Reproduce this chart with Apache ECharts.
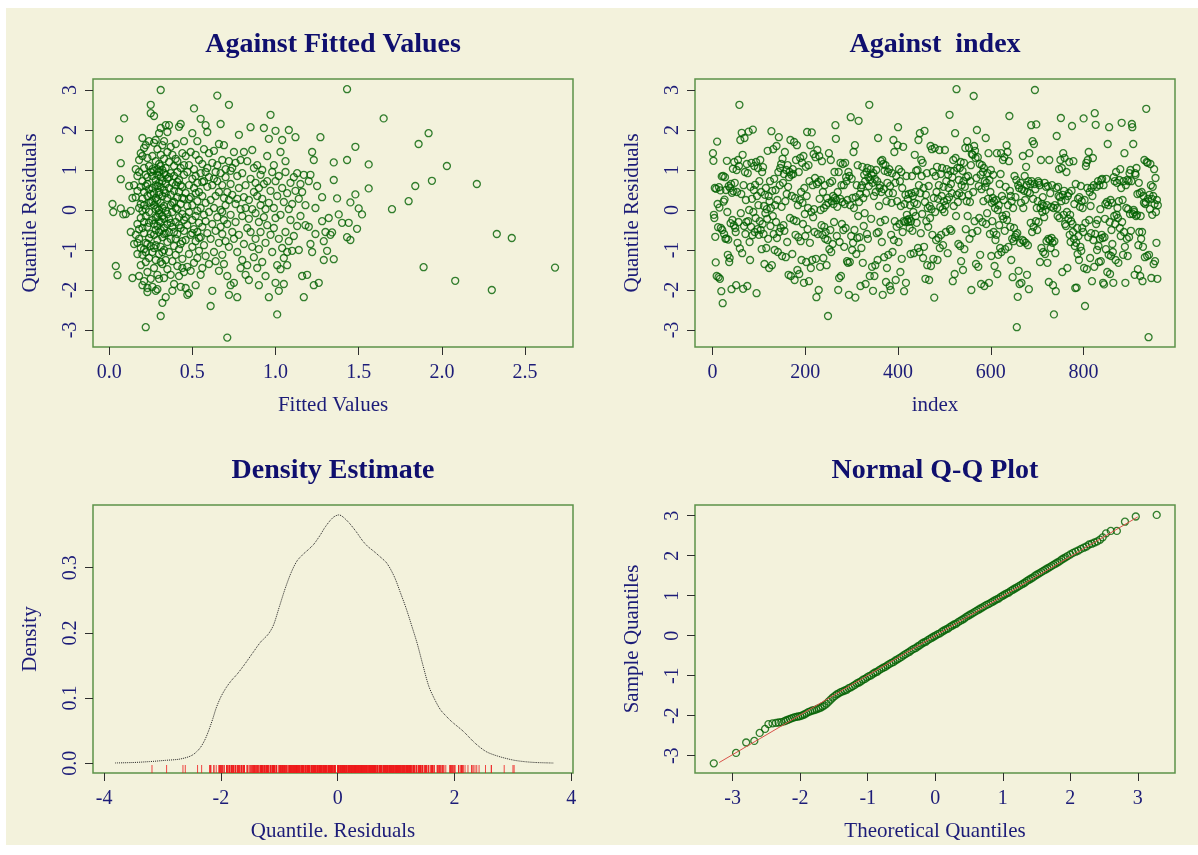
<!DOCTYPE html>
<html>
<head>
<meta charset="utf-8">
<title>Quantile residual diagnostics</title>
<script src="https://cdn.jsdelivr.net/npm/echarts@6/dist/echarts.min.js"></script>
<style>
  html, body { margin: 0; padding: 0; background: #ffffff; }
  #chart { width: 1198px; height: 855px; }
</style>
</head>
<body>
<div id="chart"></div>
<script>
const residuals = [
  1.42, 1.23, -0.12, -0.2, 0.55, -0.67, -1.31, 0.53, -1.65, 1.71, 0.15, -0.43, -1.68, 0.57, 0.06, -1.72, 0.49, -0.45, -2.03, 0.84,
  -0.5, -2.33, 0.85, 0.21, -0.6, 0.26, 0.82, -0.72, 0.5, -0.71, 1.23, -0.05, -1.12, -0.74, 0.6, -1.3, -1.2, 0.55, -0.33, 0.65,
  -1.98, 0.43, -0.25, 1.03, 0.47, -0.38, 1.2, 0.68, -0.45, -0.55, -1.88, 1.0, 0.45, -0.82, 1.25, -0.3, 1.1, 2.63, -0.96, 1.75,
  -0.08, 0.4, 1.93, -1.08, 1.38, -1.97, 0.62, -0.4, 1.8, 0.95, -0.6, 0.25, -0.3, 1.15, -1.9, 0.92, -0.28, 1.96, 0.0, -0.8,
  -1.25, 0.58, -0.42, 1.18, 0.28, -0.63, 2.01, -0.05, 0.5, 1.1, -0.55, 0.63, -0.2, 1.2, -2.08, 0.35, -0.48, 1.05, 0.12, -0.62,
  0.72, -0.28, 1.25, -0.5, 0.45, -0.98, 0.95, -0.35, 1.07, -0.6, 0.1, -1.35, 0.38, -0.08, 0.55, -0.95, 0.02, -0.22, 1.48, -0.72,
  0.35, -1.45, 0.22, 0.72, -0.4, 0.05, 1.97, -1.38, 0.48, -0.15, 1.52, -0.6, 0.78, -1.0, 0.12, 0.5, -0.3, 1.6, -0.7, 0.25,
  -1.05, 0.95, 1.82, -0.55, 0.62, 1.05, -0.45, 1.15, 0.08, -1.15, 1.28, 0.68, -0.38, 0.9, -0.52, 1.45, 0.22, -1.18, 1.0, 0.4,
  -0.8, 1.12, 0.58, -1.62, 0.82, 0.95, -0.2, 1.75, -1.65, 0.88, 0.35, -1.1, 1.02, 0.9, -0.25, 1.7, -1.75, 0.3, -0.62, 1.25,
  -0.28, 1.62, -1.5, 0.12, -0.68, 0.95, -1.6, 0.25, 1.3, -0.78, 0.45, -1.25, 1.18, 0.18, -0.35, 1.35, -1.82, 0.55, -0.1, -0.65,
  1.08, -1.3, 0.35, 1.95, -0.48, 0.05, 1.12, -1.78, 0.72, -0.82, 1.62, -1.45, -0.05, 1.94, -1.25, 0.62, -0.18, 1.4, 0.02, -0.55,
  0.8, 1.32, -1.22, -2.18, 0.65, 1.5, -0.6, 0.7, -2.0, 1.35, 0.28, -1.42, 0.0, 0.75, -0.38, 1.22, -0.62, 0.45, -1.2, 0.05,
  -0.42, 0.62, -0.72, -0.55, 0.12, -1.38, 0.3, -0.75, -2.65, 0.18, 1.42, -0.98, 0.68, -0.5, 1.25, -1.05, 0.22, 0.72, -0.85, 0.35,
  0.15, -0.3, 0.95, 0.3, 2.12, 1.78, 0.25, -0.65, 0.08, 0.45, -2.0, 0.95, -1.7, -0.8, 0.28, 1.18, -1.65, 0.62, -0.35, 0.2,
  1.15, -0.5, 0.62, -0.92, 0.15, 1.18, -0.45, 0.82, 0.72, -1.28, 0.25, -1.32, 0.95, -2.12, 0.85, -1.3, 0.12, 2.32, -0.65, 0.78,
  -1.0, 0.3, -0.82, 1.45, 0.05, -0.5, 1.62, -2.19, 0.32, -1.1, 0.62, -0.7, 1.12, -0.15, 2.23, 0.2, -0.68, 0.4, -1.9, 0.55,
  -0.95, 0.62, 1.08, -1.32, 0.3, -0.4, 0.88, -0.08, 0.72, -1.85, 0.42, 0.95, -0.6, 1.05, -0.72, 0.82, 0.6, 2.63, -1.65, 0.75,
  1.02, -0.22, 0.88, -1.42, 0.68, -2.02, 0.92, 0.35, -1.65, 0.78, -1.38, 0.45, 1.0, -0.58, 0.72, -1.25, 1.8, -0.55, 0.1, 0.55,
  0.62, -0.3, 1.22, 0.45, -0.8, 1.25, -2.12, 1.15, 0.52, -1.18, 0.98, -0.25, 1.12, -1.8, 0.22, -1.45, 0.68, 0.95, -1.12, 0.42,
  1.02, -1.9, 0.6, -2.0, -0.62, 0.18, 0.92, -1.05, 0.42, 1.75, -0.75, 1.45, -0.28, 0.68, -1.75, 0.85, -0.42, 0.22, 1.62, 2.07,
  -0.8, 1.02, -0.35, 0.72, -1.55, 0.1, 0.95, -1.22, 0.55, -0.55, 1.58, -0.28, -2.03, 0.15, -0.3, 0.38, -1.82, 0.85, -0.12, -0.25,
  0.28, -0.3, 0.4, -0.22, -0.45, 0.12, -1.1, -0.28, 0.42, 0.85, -0.52, 0.35, -0.05, -1.08, 0.18, 1.38, 0.45, -0.15, 0.98, -0.32,
  0.15, 1.0, -0.95, 1.75, 0.62, -1.05, 1.92, 0.42, -0.58, 1.25, 0.85, -0.1, 1.18, -1.2, 0.55, -0.92, 1.98, 0.2, -1.72, 0.38,
  -0.28, 0.92, -1.38, 0.05, -0.42, 0.6, -1.75, 0.1, -0.2, 1.6, -1.4, 0.02, 1.52, -0.62, 0.95, -1.22, 0.3, -2.19, 1.55, -0.05,
  0.85, -0.75, 0.45, 1.08, -1.25, 0.28, -0.7, 0.62, 1.5, -0.95, 0.08, 0.9, -0.62, 0.35, 1.05, 0.02, -0.88, 0.58, 0.22, -0.05,
  1.5, 0.12, -0.55, 0.72, 1.02, 0.25, -1.08, 0.88, 0.55, 0.32, 2.38, -0.48, 0.98, 0.65, -0.52, 0.42, 0.82, -1.78, 1.25, 0.1,
  0.98, -1.6, 1.92, 1.3, -0.15, 3.02, 0.38, 1.05, 0.2, -0.85, 0.75, 0.42, 1.05, -0.9, 1.2, -1.28, 0.62, 0.35, 0.98, -1.5,
  0.72, 1.18, -0.98, 0.58, 1.55, -0.48, 0.82, 0.22, 1.72, -0.15, 0.85, 0.38, 1.55, -0.72, 0.2, 0.72, 1.12, -2.0, 1.4, -0.58,
  1.38, 0.45, 2.85, 1.6, -0.28, 1.48, 1.3, -1.35, 0.8, 2.0, -0.52, 1.32, -1.42, 0.6, -0.2, 1.15, -1.12, 0.88, -1.85, 0.52,
  1.12, -0.3, 0.95, 0.22, 1.05, -1.9, 0.72, 0.58, 1.8, -0.35, 0.68, -0.08, 0.92, 0.28, 1.42, -1.82, 0.75, -0.6, 0.45, 1.0,
  -1.15, 0.18, -0.28, 0.3, 0.88, -0.55, 0.22, -1.4, 0.05, -0.75, 0.25, -0.62, 1.42, -1.6, 0.0, -1.12, 0.12, -0.38, 0.65, -0.95,
  0.9, 1.42, -1.05, 0.35, -0.15, 1.25, -0.22, 0.25, 1.32, -0.52, -0.98, 0.58, -0.12, 1.62, -0.25, 1.45, 0.12, -0.92, 1.22, 2.35,
  0.48, -0.42, 0.35, -1.25, 0.22, -0.72, -1.68, 0.05, -0.78, -0.45, 0.85, -0.68, 0.32, -0.62, 0.75, -2.93, -0.58, -2.17, 0.62, -1.52,
  0.55, -1.85, -0.82, 0.68, 0.18, -1.82, 0.52, -0.75, 1.35, 0.05, -0.78, 0.48, 0.85, 0.25, -0.82, 1.08, 0.62, -1.62, 0.45, -0.88,
  0.72, -1.98, 1.42, 0.42, 0.65, -0.32, 2.12, 0.72, -0.55, 1.72, 0.28, -0.42, 1.65, 0.65, 3.0, 0.52, -0.28, 2.14, 0.05, -0.5,
  0.22, 0.72, -0.3, 0.68, 0.62, -1.3, 0.05, 1.25, -0.95, 0.15, -0.05, 0.32, -1.05, 0.1, -0.18, 0.68, -1.1, 0.0, 0.58, -0.78,
  0.12, -1.32, 0.6, -0.72, -1.8, 1.25, -0.75, 0.42, -0.95, 0.08, -0.7, 0.62, -0.82, -1.88, 0.05, -2.61, -0.78, 0.12, -1.08, -2.03,
  0.55, 1.85, 0.05, -0.15, 0.58, 0.35, 1.02, -0.2, 0.32, 1.25, 2.3, 0.22, 1.05, -1.55, 0.38, 1.42, -0.12, 0.48, 1.3, -0.35,
  0.25, -0.4, 0.95, -0.05, -1.45, 0.35, -0.22, 0.42, 1.2, -0.62, -0.12, -0.8, -0.28, 0.48, 2.1, -0.35, -0.55, 1.22, -0.72, 0.15,
  -0.9, -1.95, 0.65, -0.82, -1.94, -0.45, -1.1, 0.28, -0.65, -1.25, 0.32, 0.08, -0.92, 0.6, -1.02, 0.22, -0.45, 0.05, -0.55, 2.29,
  -1.45, 0.25, -2.4, -0.32, 1.1, 1.18, -1.48, 0.55, 1.25, -0.68, 1.45, -0.25, 0.45, -1.2, 0.1, -0.58, 0.55, -1.78, 0.35, 1.3,
  -0.75, 0.62, -1.42, 2.42, -0.6, 2.13, -0.35, 0.58, -1.0, -0.25, 0.72, -0.9, -1.3, 0.62, -0.72, 0.02, -1.28, 0.75, -0.62, 0.78,
  -0.7, -1.82, 0.62, -1.86, -0.68, -0.22, 0.15, -0.98, 0.78, 0.2, -1.55, 1.65, 0.12, -1.12, 2.07, -0.3, -1.6, 0.25, -1.15, -0.5,
  0.18, -0.85, -1.05, -1.82, 0.82, -0.15, 0.72, -0.35, -1.25, 0.95, -0.12, 0.68, 0.05, -0.2, -1.32, 0.22, 0.75, -0.45, 1.02, -0.65,
  0.55, 2.18, -0.3, 0.25, -1.12, 0.72, -0.55, 1.42, -0.92, -1.82, 0.62, 0.05, -0.72, 0.75, -1.15, 0.02, 0.72, -0.68, 0.92, -0.1,
  1.0, -0.52, 0.72, 2.15, 2.07, -0.1, 1.65, 0.0, -0.05, -1.62, 0.92, 0.88, -0.15, 1.05, -0.12, 0.4, -1.48, -0.88, 0.68, -0.55,
  0.42, -1.65, -0.15, -0.72, 0.45, -0.55, -1.78, -0.92, 0.35, 0.18, 1.25, -1.18, 0.15, 0.2, 2.53, 1.2, -1.15, 1.18, 0.28, -3.18,
  -1.12, 0.38, 0.02, 1.15, 0.62, -1.7, 0.28, -0.12, 0.58, 0.35, -1.35, 1.02, 0.15, -1.28, 0.8, -0.05, -0.82, 0.25, -1.72, 0.12
];

// [fitted value, quantile residual]
const fittedPoints = [
  [0.02,0.15],[0.025,-0.05],[0.06,1.77],[0.07,0.77],[0.07,1.17],[0.09,2.29],[0.07,0.04],[0.085,-0.11],[0.04,-1.4],[0.05,-1.63],
  [0.1,-0.1],[0.12,0.6],[0.13,-0.55],[0.14,-1.7],[0.14,0.3],[0.15,-0.85],[0.15,0.62],[0.13,-0.02],
  [0.16,-0.62],[0.16,0.32],[0.17,-1.1],[0.17,0.85],[0.17,-0.35],[0.18,1.25],[0.18,-0.72],[0.18,0.05],[0.18,-1.65],[0.19,0.58],
  [0.19,-0.2],[0.19,1.42],[0.19,-0.95],[0.2,0.28],[0.2,-1.12],[0.2,1.8],[0.2,-0.45],[0.2,0.72],[0.21,-1.78],[0.21,0.12],
  [0.21,1.05],[0.21,-0.58],[0.21,0.45],[0.22,-1.3],[0.22,1.62],[0.22,-0.15],[0.22,0.88],[0.22,-0.82],[0.22,-2.93],[0.23,0.35],
  [0.23,1.3],[0.23,-1.95],[0.23,-0.42],[0.23,0.65],[0.23,-1.55],[0.24,1.1],[0.24,-0.05],[0.24,-0.7],[0.24,0.52],[0.24,1.72],
  [0.24,-1.2],[0.25,2.42],[0.25,2.63],[0.25,0.2],[0.25,-0.9],[0.25,0.95],[0.25,-1.72],[0.25,0.4],[0.18,0.95],[0.19,-1.38],
  [0.2,-0.02],[0.21,-0.3],[0.22,0.6],[0.23,-0.85],[0.24,0.18],[0.16,1.02],[0.17,0.48],[0.18,-0.48],[0.2,1.35],[0.21,-0.98],
  [0.22,0.02],[0.23,0.82],[0.24,-0.32],[0.2,-1.88],[0.21,1.55],[0.19,0.15],[0.23,-2.05],[0.17,-0.82],[0.25,-0.6],[0.22,-1.05],
  [0.26,0.55],[0.26,-0.25],[0.26,1.35],[0.26,-1.05],[0.26,0.85],[0.26,-1.92],[0.27,0.12],[0.27,1.68],[0.27,-0.62],[0.27,0.42],
  [0.27,-1.45],[0.27,0.98],[0.27,2.35],[0.28,-0.18],[0.28,0.75],[0.28,-0.88],[0.28,1.22],[0.28,0.3],[0.28,-1.25],[0.28,0.62],
  [0.28,-2.02],[0.29,0.05],[0.29,1.02],[0.29,-0.4],[0.29,0.88],[0.29,-0.75],[0.29,1.52],[0.29,0.25],[0.29,-1.62],[0.3,0.68],
  [0.3,-0.08],[0.3,1.92],[0.3,-0.55],[0.3,0.45],[0.3,1.15],[0.3,-1.1],[0.3,0.0],[0.3,-1.72],[0.31,3.0],[0.31,-2.65],
  [0.31,0.82],[0.31,-0.3],[0.31,1.38],[0.31,0.18],[0.31,-0.92],[0.31,0.58],[0.31,2.05],[0.32,-0.15],[0.32,1.0],[0.32,-0.68],
  [0.32,0.35],[0.32,-1.35],[0.32,0.72],[0.32,-2.32],[0.32,1.62],[0.33,-0.45],[0.33,0.92],[0.33,0.1],[0.33,-1.0],[0.33,1.28],
  [0.33,-1.7],[0.33,0.5],[0.33,-0.22],[0.34,2.12],[0.34,-0.58],[0.34,0.65],[0.34,-1.25],[0.34,1.05],[0.34,-0.02],[0.34,-2.18],
  [0.35,0.3],[0.35,-0.8],[0.35,1.45],[0.35,-1.48],[0.35,0.78],[0.35,-0.35],[0.35,1.95],[0.26,0.22],[0.27,-0.35],[0.28,1.75],
  [0.29,-1.98],[0.3,0.95],[0.31,-0.5],[0.32,0.05],[0.33,1.72],[0.34,0.42],[0.35,-0.1],[0.27,-0.95],[0.28,0.02],[0.29,0.6],
  [0.3,-0.28],[0.31,1.1],[0.32,-1.05],[0.33,-0.6],[0.34,0.88],[0.26,1.02],[0.29,-0.18],[0.3,0.38],[0.31,-1.3],[0.28,-0.5],
  [0.36,0.55],[0.36,-1.05],[0.36,1.2],[0.36,-0.22],[0.36,2.12],[0.37,0.12],[0.37,-0.72],[0.37,0.92],[0.37,-1.62],[0.37,0.38],
  [0.38,-0.42],[0.38,1.38],[0.38,0.68],[0.38,-1.28],[0.38,-0.05],[0.39,0.85],[0.39,-0.9],[0.39,0.2],[0.39,1.1],[0.39,-1.85],
  [0.4,-0.3],[0.4,0.62],[0.4,1.65],[0.4,-1.12],[0.4,0.05],[0.41,0.95],[0.41,-0.6],[0.41,-1.4],[0.41,0.32],[0.41,1.22],
  [0.42,-0.18],[0.42,0.75],[0.42,-0.98],[0.42,2.08],[0.42,0.45],[0.43,-1.92],[0.43,1.05],[0.43,-0.45],[0.43,0.15],[0.43,2.15],
  [0.44,-0.78],[0.44,0.58],[0.44,-1.22],[0.44,1.42],[0.44,-0.1],[0.45,0.88],[0.45,-0.52],[0.45,1.72],[0.45,-1.55],[0.45,0.28],
  [0.36,-0.55],[0.37,1.58],[0.38,-2.02],[0.39,0.48],[0.4,-0.72],[0.41,0.02],[0.42,-1.65],[0.43,0.62],[0.44,0.3],[0.45,-0.25],
  [0.36,0.82],[0.38,0.18],[0.4,1.28],[0.42,-0.38],[0.44,-1.45],[0.37,-0.32],[0.39,-0.55],[0.41,0.7],[0.43,-0.85],[0.45,1.12],
  [0.46,0.42],[0.46,-0.75],[0.46,1.35],[0.46,-1.95],[0.47,0.1],[0.47,-0.38],[0.47,0.95],[0.47,-2.12],[0.48,-1.1],[0.48,0.62],
  [0.48,-0.05],[0.48,1.12],[0.48,-2.08],[0.49,0.32],[0.49,-0.62],[0.49,1.45],[0.49,-1.52],[0.5,0.78],[0.5,-0.25],[0.5,1.92],
  [0.5,-0.92],[0.5,0.12],[0.51,2.54],[0.51,-0.48],[0.51,0.55],[0.51,-1.32],[0.51,1.02],[0.52,-0.15],[0.52,0.85],[0.52,-0.78],
  [0.52,1.38],[0.52,-1.88],[0.53,0.22],[0.53,-0.55],[0.53,0.68],[0.53,1.72],[0.53,-1.2],[0.54,-0.32],[0.54,0.45],[0.54,-1.02],
  [0.54,1.25],[0.55,0.05],[0.55,-0.68],[0.55,0.92],[0.55,-1.62],[0.55,2.28],[0.56,0.35],[0.56,-0.42],[0.56,1.15],[0.56,-1.45],
  [0.57,-0.12],[0.57,0.72],[0.57,-0.88],[0.57,1.52],[0.58,0.18],[0.58,-0.28],[0.58,-1.15],[0.58,2.12],[0.59,0.58],[0.59,-0.58],
  [0.59,1.05],[0.59,1.95],[0.6,-0.05],[0.6,0.82],[0.6,-1.35],[0.6,1.42],[0.46,-0.18],[0.48,0.28],[0.5,-0.58],[0.52,0.42],
  [0.54,-0.7],[0.56,0.7],[0.58,0.95],[0.47,-1.42],[0.53,-0.02],
  [0.61,-2.4],[0.61,0.25],[0.61,-0.72],[0.62,1.18],[0.62,-0.35],[0.62,0.62],[0.62,-2.02],[0.63,0.05],[0.63,-1.05],[0.63,0.78],
  [0.63,1.48],[0.64,-0.52],[0.64,0.35],[0.64,-1.28],[0.65,2.86],[0.65,0.72],[0.65,-0.18],[0.65,1.12],[0.66,-0.82],[0.66,0.45],
  [0.66,-1.52],[0.66,1.65],[0.67,0.0],[0.67,-0.42],[0.67,0.92],[0.67,2.15],[0.68,-1.12],[0.68,0.62],[0.68,-0.6],[0.68,1.25],
  [0.69,0.3],[0.69,-0.25],[0.69,1.62],[0.69,-1.35],[0.7,0.82],[0.7,-0.78],[0.7,0.12],[0.7,1.02],[0.71,-3.19],[0.71,-1.65],
  [0.71,0.45],[0.71,-0.35],[0.72,2.63],[0.72,1.22],[0.72,-0.92],[0.72,0.25],[0.72,-2.12],[0.73,-0.12],[0.73,0.65],[0.73,-1.88],
  [0.74,1.05],[0.74,-0.55],[0.74,0.38],[0.75,1.45],[0.75,-0.72],[0.75,-1.82],[0.76,0.15],[0.76,1.18],[0.76,-0.3],[0.77,0.85],
  [0.77,-2.18],[0.77,-1.05],[0.78,0.55],[0.78,1.88],[0.78,-0.62],[0.79,0.02],[0.79,1.25],[0.79,-1.45],[0.8,0.92],[0.8,-0.15],
  [0.8,-1.25],[0.64,0.95],[0.68,-0.05],[0.73,0.98],[0.77,0.28],
  [0.81,0.32],[0.81,-0.85],[0.81,1.45],[0.82,-1.62],[0.82,0.62],[0.82,0.05],[0.83,-0.45],[0.83,1.22],[0.83,-1.38],[0.84,0.25],
  [0.84,-0.22],[0.84,-1.75],[0.85,2.07],[0.85,0.78],[0.85,-0.55],[0.86,1.5],[0.86,0.02],[0.86,-0.92],[0.87,0.45],[0.87,-1.18],
  [0.87,1.05],[0.88,-0.08],[0.88,0.68],[0.88,-0.72],[0.89,0.35],[0.89,-1.45],[0.89,1.12],[0.9,-0.3],[0.9,0.55],[0.9,-0.98],
  [0.9,-1.88],[0.91,0.12],[0.91,0.88],[0.91,-0.55],[0.92,1.0],[0.92,-1.3],[0.92,0.28],[0.93,2.05],[0.93,-0.18],[0.93,0.65],
  [0.94,-0.82],[0.94,0.02],[0.94,-1.65],[0.95,0.72],[0.95,1.35],[0.95,-0.38],[0.96,1.78],[0.96,-2.18],[0.96,0.18],[0.97,2.38],
  [0.97,-0.62],[0.97,0.48],[0.98,-1.05],[0.98,0.95],[0.99,0.05],[0.99,-0.45],[0.99,1.12],[1.0,-1.82],[1.0,0.72],[1.0,-0.2],
  [1.0,1.98],[1.01,-2.61],[1.01,0.35],[1.01,-1.38],[1.02,0.85],[1.02,-0.72],[1.02,-2.02],[1.03,1.45],[1.03,-0.12],[1.03,-1.48],
  [1.04,0.55],[1.04,-0.95],[1.04,1.75],[1.05,-1.2],[1.05,0.2],[1.05,-1.85],[1.06,0.95],[1.06,-0.55],[1.06,1.22],[1.07,-1.05],
  [1.07,0.42],[1.07,-1.38],[1.08,0.02],[1.08,-0.78],[1.08,2.0],[1.09,0.68],[1.09,-0.25],[1.1,-1.02],[1.1,0.15],[1.11,0.82],
  [1.11,-0.65],[1.12,1.82],[1.12,0.48],[1.13,-0.4],[1.13,0.92],[1.14,0.28],[1.14,-1.0],[1.15,0.65],[1.15,-0.15],[1.16,-1.65],
  [1.16,0.45],[1.17,-2.18],[1.17,0.88],[1.18,-0.38],[1.18,0.12],[1.19,-1.62],[1.2,0.72],[1.2,-0.42],[1.21,-0.85],[1.21,0.88],
  [1.22,1.45],[1.22,-1.05],[1.23,1.25],[1.23,-1.88],[1.24,0.05],[1.24,-0.6],[1.25,0.6],[1.26,-1.82],[1.27,1.82],[1.28,0.32],
  [1.28,-0.28],[1.29,-1.25],[1.29,-0.78],[1.3,-0.55],
  [1.31,-1.02],[1.32,-0.2],[1.33,-0.62],[1.34,-0.56],[1.35,1.19],[1.35,0.75],[1.35,-1.23],[1.37,0.29],[1.38,-0.11],[1.4,-0.32],
  [1.43,1.25],[1.43,-0.68],[1.43,3.02],[1.44,-0.32],[1.45,0.19],[1.45,-0.75],[1.48,1.58],[1.48,0.39],[1.49,-0.47],[1.5,0.04],
  [1.52,-0.11],[1.56,1.14],[1.56,0.54],
  [1.65,2.29],[1.7,0.02],[1.8,0.22],[1.84,0.6],[1.86,1.65],[1.89,-1.43],[1.92,1.92],[1.94,0.73],[2.03,1.1],[2.08,-1.77],
  [2.21,0.65],[2.3,-2.0],[2.33,-0.6],[2.42,-0.7],[2.68,-1.44]
];

// kernel density estimate of the residuals
const densityX = [-3.81, -3.5, -3.22, -2.95, -2.7, -2.5, -2.37, -2.28, -2.21, -2.14, -2.08, -2.0, -1.91, -1.82, -1.72, -1.6, -1.45, -1.32, -1.19, -1.1,
  -1.0, -0.9, -0.8, -0.7, -0.6, -0.5, -0.41, -0.3, -0.21, -0.08, 0.02, 0.15, 0.31, 0.42, 0.51, 0.62, 0.71, 0.84, 0.97, 1.08,
  1.17, 1.27, 1.36, 1.46, 1.56, 1.66, 1.76, 1.86, 1.95, 2.15, 2.35, 2.54, 2.74, 3.0, 3.2, 3.39, 3.69];
const densityY = [0.0005, 0.0012, 0.0026, 0.0045, 0.0065, 0.012, 0.022, 0.035, 0.05, 0.068, 0.085, 0.102, 0.116, 0.127, 0.137, 0.151, 0.17, 0.186, 0.198, 0.212,
  0.24, 0.268, 0.292, 0.31, 0.32, 0.328, 0.336, 0.35, 0.363, 0.377, 0.381, 0.373, 0.356, 0.342, 0.333, 0.325, 0.318, 0.307, 0.286, 0.26,
  0.238, 0.21, 0.184, 0.15, 0.118, 0.098, 0.082, 0.072, 0.064, 0.049, 0.031, 0.018, 0.011, 0.005, 0.0025, 0.0012, 0.0004];

// [theoretical quantile, sample quantile]
const qqPoints = [
  [-3.28,-3.19],[-2.95,-2.93],[-2.8,-2.67],[-2.68,-2.63],[-2.6,-2.43],[-2.52,-2.33],[-2.47,-2.21],[-2.41,-2.19],[-2.36,-2.18],[-2.32,-2.17],
  [-2.28,-2.16],[-2.24,-2.14],[-2.21,-2.12],[-2.18,-2.1],[-2.15,-2.08],[-2.12,-2.06],[-2.09,-2.04],[-2.06,-2.03],[-2.03,-2.02],[-2.0,-2.01],
  [-1.97,-1.99],[-1.94,-1.97],[-1.91,-1.94],[-1.88,-1.91],[-1.85,-1.89],[-1.82,-1.87],[-1.79,-1.86],[-1.76,-1.84],[-1.73,-1.82],[-1.7,-1.8],
  [-1.67,-1.77],[-1.64,-1.74],[-1.61,-1.7],[-1.58,-1.65],[-1.55,-1.6],[-1.52,-1.55],[-1.49,-1.51],[-1.46,-1.47],[-1.43,-1.44],[-1.4,-1.41],
  [-1.37,-1.39],[-1.34,-1.37],[-1.31,-1.35],[-1.28,-1.31],[-1.25,-1.29],[-1.22,-1.26],[-1.19,-1.23],[-1.16,-1.19],[-1.13,-1.17],[-1.1,-1.14],
  [-1.07,-1.1],[-1.04,-1.08],[-1.01,-1.04],[-0.98,-1.01],[-0.95,-0.99],[-0.92,-0.95],[-0.89,-0.92],[-0.86,-0.9],[-0.83,-0.86],[-0.8,-0.83],
  [-0.77,-0.8],[-0.74,-0.78],[-0.71,-0.74],[-0.68,-0.71],[-0.65,-0.68],[-0.62,-0.66],[-0.59,-0.62],[-0.56,-0.59],[-0.53,-0.56],[-0.5,-0.53],
  [-0.47,-0.49],[-0.44,-0.46],[-0.41,-0.43],[-0.38,-0.4],[-0.35,-0.36],[-0.32,-0.33],[-0.29,-0.31],[-0.26,-0.27],[-0.23,-0.24],[-0.2,-0.2],
  [-0.17,-0.17],[-0.14,-0.15],[-0.11,-0.11],[-0.08,-0.08],[-0.05,-0.05],[-0.02,-0.02],[0.01,0.01],[0.04,0.04],[0.07,0.06],[0.1,0.1],
  [0.13,0.13],[0.16,0.16],[0.19,0.18],[0.22,0.22],[0.25,0.25],[0.28,0.28],[0.31,0.3],[0.34,0.34],[0.37,0.37],[0.4,0.4],
  [0.43,0.43],[0.46,0.47],[0.49,0.5],[0.52,0.53],[0.55,0.56],[0.58,0.59],[0.61,0.62],[0.64,0.65],[0.67,0.68],[0.7,0.71],
  [0.73,0.74],[0.76,0.77],[0.79,0.79],[0.82,0.82],[0.85,0.85],[0.88,0.88],[0.91,0.91],[0.94,0.93],[0.97,0.97],[1.0,1.0],
  [1.03,1.03],[1.06,1.06],[1.09,1.08],[1.12,1.12],[1.15,1.15],[1.18,1.18],[1.21,1.21],[1.24,1.24],[1.27,1.27],[1.3,1.3],
  [1.33,1.33],[1.36,1.37],[1.39,1.4],[1.42,1.43],[1.45,1.46],[1.48,1.5],[1.51,1.53],[1.54,1.56],[1.57,1.59],[1.6,1.62],
  [1.63,1.65],[1.66,1.68],[1.69,1.71],[1.72,1.74],[1.75,1.77],[1.78,1.8],[1.81,1.83],[1.84,1.86],[1.87,1.9],[1.9,1.93],
  [1.93,1.96],[1.96,1.99],[2.0,2.03],[2.04,2.07],[2.08,2.1],[2.12,2.13],[2.16,2.17],[2.2,2.2],[2.24,2.23],[2.28,2.28],
  [2.32,2.3],[2.36,2.33],[2.4,2.36],[2.44,2.4],[2.48,2.46],[2.53,2.56],[2.6,2.62],[2.69,2.62],[2.81,2.85],[2.97,2.98],
  [3.28,3.02]
];
const qqLine = [[-3.2, -3.17], [3.0, 2.97]];

// tick labels
const fittedTicks = [0, 0.5, 1, 1.5, 2, 2.5];
const residTicks = [-3, -2, -1, 0, 1, 2, 3];
const indexTicks = [0, 200, 400, 600, 800];
const densityXTicks = [-4, -2, 0, 2, 4];
const densityYTicks = [0, 0.1, 0.2, 0.3];
const theoTicks = [-3, -2, -1, 0, 1, 2, 3];

const serif = '"Liberation Serif", "DejaVu Serif", serif';
const navy = '#1c1c78';
const titleColor = '#0f0f6e';
const pointColor = '#006000';

const chart = echarts.init(document.getElementById('chart'));

function makeAxis(gridIndex, min, max, ticks, name, isY, digits) {
  return {
    type: 'value',
    gridIndex: gridIndex,
    min: min,
    max: max,
    name: name,
    nameLocation: 'middle',
    nameGap: isY ? 52 : 48,
    nameMoveOverlap: false,
    nameTextStyle: { fontFamily: serif, fontSize: 21, color: navy },
    axisLine: { show: false, onZero: false },
    splitLine: { show: false },
    axisTick: {
      show: true,
      length: 8,
      customValues: ticks,
      lineStyle: { color: '#2e2e2e', width: 1 }
    },
    axisLabel: {
      customValues: ticks,
      rotate: isY ? 90 : 0,
      margin: isY ? 12 : 16,
      fontFamily: serif,
      fontSize: 20,
      color: navy,
      formatter: v => (digits ? Number(v).toFixed(digits) : String(v))
    }
  };
}

function titleText(x, y, text) {
  return {
    type: 'text',
    x: x,
    y: y,
    silent: true,
    style: {
      text: text,
      font: 'bold 28px "Liberation Serif", serif',
      fill: titleColor,
      align: 'center',
      verticalAlign: 'middle'
    }
  };
}

const gridBase = {
  show: true,
  borderColor: '#5c9248',
  borderWidth: 1.5,
  backgroundColor: 'transparent',
  outerBoundsMode: 'none'
};

const pointStyle = {
  color: 'transparent',
  borderColor: pointColor,
  borderWidth: 1.3
};

const option = {
  animation: false,
  backgroundColor: 'transparent',
  graphic: [
    { type: 'rect', z: -10, silent: true, shape: { x: 6, y: 8, width: 1192, height: 837 }, style: { fill: '#f3f2dc' } },
    titleText(333, 45, 'Against Fitted Values'),
    titleText(935, 45, 'Against  index'),
    titleText(333, 471, 'Density Estimate'),
    titleText(935, 471, 'Normal Q-Q Plot')
  ],
  grid: [
    Object.assign({ left: 93, top: 79, width: 480, height: 268 }, gridBase),
    Object.assign({ left: 695, top: 79, width: 480, height: 268 }, gridBase),
    Object.assign({ left: 93, top: 505, width: 480, height: 268 }, gridBase),
    Object.assign({ left: 695, top: 505, width: 480, height: 268 }, gridBase)
  ],
  xAxis: [
    makeAxis(0, -0.097, 2.788, fittedTicks, 'Fitted Values', false, 1),
    makeAxis(1, -37.7, 997, indexTicks, 'index', false, 0),
    makeAxis(2, -4.19, 4.028, densityXTicks, 'Quantile. Residuals', false, 0),
    makeAxis(3, -3.558, 3.551, theoTicks, 'Theoretical Quantiles', false, 0)
  ],
  yAxis: [
    makeAxis(0, -3.425, 3.275, residTicks, 'Quantile Residuals', true, 0),
    makeAxis(1, -3.425, 3.275, residTicks, 'Quantile Residuals', true, 0),
    makeAxis(2, -0.0149, 0.3962, densityYTicks, 'Density', true, 1),
    makeAxis(3, -3.432, 3.268, residTicks, 'Sample Quantiles', true, 0)
  ],
  series: [
    {
      type: 'scatter',
      xAxisIndex: 0,
      yAxisIndex: 0,
      symbol: 'circle',
      symbolSize: 7,
      itemStyle: pointStyle,
      data: fittedPoints
    },
    {
      type: 'scatter',
      xAxisIndex: 1,
      yAxisIndex: 1,
      symbol: 'circle',
      symbolSize: 7,
      itemStyle: pointStyle,
      data: residuals.map((r, i) => [i + 1, r])
    },
    {
      type: 'line',
      xAxisIndex: 2,
      yAxisIndex: 2,
      showSymbol: false,
      smooth: 0.3,
      lineStyle: { color: '#222', width: 1, type: 'dotted' },
      data: densityX.map((x, i) => [x, densityY[i]])
    },
    {
      // rug of the residuals along the bottom of the density panel
      type: 'custom',
      xAxisIndex: 2,
      yAxisIndex: 2,
      encode: { x: 0, y: 1 },
      data: residuals.map(r => [r, 0]),
      renderItem: (params, api) => {
        const x = api.coord([api.value(0), 0])[0];
        const bottom = params.coordSys.y + params.coordSys.height;
        return {
          type: 'line',
          shape: { x1: x, y1: bottom, x2: x, y2: bottom - 8 },
          style: { stroke: '#ee1c1c', lineWidth: 1, opacity: 0.8 }
        };
      }
    },
    {
      type: 'line',
      xAxisIndex: 3,
      yAxisIndex: 3,
      showSymbol: false,
      lineStyle: { color: '#d9534a', width: 1 },
      data: qqLine
    },
    {
      type: 'scatter',
      xAxisIndex: 3,
      yAxisIndex: 3,
      symbol: 'circle',
      symbolSize: 7,
      itemStyle: pointStyle,
      data: qqPoints
    }
  ]
};

chart.setOption(option);
window.addEventListener('resize', () => chart.resize());
</script>
</body>
</html>
